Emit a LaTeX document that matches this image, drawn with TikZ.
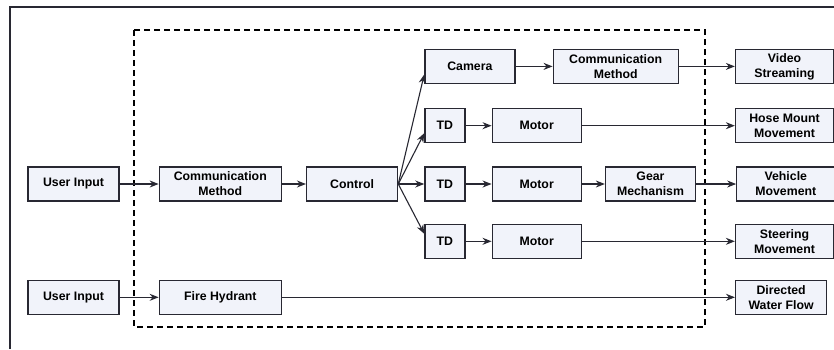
\documentclass[tikz,border=0pt]{standalone}
\usepackage{fontspec}
\setmainfont{Liberation Sans}
\usetikzlibrary{arrows.meta, positioning}
\definecolor{boxfill}{RGB}{241,243,250}
\definecolor{linegray}{RGB}{40,40,50}
\tikzset{
    block/.style={rectangle, minimum height=34pt, inner sep=2pt, align=center, draw=linegray, line width=1.3pt, fill=boxfill, font=\fontsize{12.3}{15}\selectfont\bfseries},
    arrow/.style={line width=1.1pt, draw=linegray, ->, >={Stealth[length=9pt,width=7pt]}},
    boundary/.style={line width=1.3pt, dash pattern=on 6pt off 4pt}
}

\begin{document}
\begin{tikzpicture}
    \useasboundingbox (-73.5pt,-165pt) rectangle (760.5pt,184pt);
    \draw [line width=1.3pt, linegray] (-63.5pt,-165pt) -- (-63.5pt,177pt) -- (760.5pt,177pt);
    \draw [boundary] (60.5pt,154pt) rectangle (631.5pt,-143pt);

    \node (ui1) [block, minimum width=91pt] {User Input};
    \node (cm1) [block, minimum width=122pt, right=39pt of ui1] {Communication\\Method};
    \node (ctrl) [block, minimum width=91pt, right=24pt of cm1] {Control};
    \node (td3) [block, minimum width=40pt, right=26pt of ctrl] {TD};
    \node (td2) [block, minimum width=40pt, above=23pt of td3] {TD};
    \node (td4) [block, minimum width=40pt, below=22pt of td3] {TD};
    \node (cam) [block, minimum width=90pt, above=24pt of td2.north west, anchor=south west] {Camera};
    \node (cm2) [block, minimum width=125pt, right=37pt of cam] {Communication\\Method};
    \node (vid) [block, minimum width=98pt, right=56pt of cm2] {Video\\Streaming};
    \node (mot2) [block, minimum width=89pt, right=26pt of td2] {Motor};
    \node (mot3) [block, minimum width=89pt, right=26pt of td3] {Motor};
    \node (mot4) [block, minimum width=89pt, right=26pt of td4] {Motor};
    \node (gear) [block, minimum width=90pt, right=23pt of mot3] {Gear\\Mechanism};
    \node (hose) [block, minimum width=98pt, right=153pt of mot2] {Hose Mount\\Movement};
    \node (veh) [block, minimum width=98pt, right=40pt of gear] {Vehicle\\Movement};
    \node (steer) [block, minimum width=98pt, right=153pt of mot4] {Steering\\Movement};
    \node (ui2) [block, minimum width=91pt, below=78pt of ui1] {User Input};
    \node (fire) [block, minimum width=122pt, right=39pt of ui2] {Fire Hydrant};
    \node (water) [block, minimum width=91pt, right=453pt of fire] {Directed\\Water Flow};

    \draw [arrow] (ui1) -- (cm1);
    \draw [arrow] (cm1) -- (ctrl);
    \draw [arrow] (ctrl.east) -- (cam.190);
    \draw [arrow] (ctrl.east) -- (td2.200);
    \draw [arrow] (ctrl) -- (td3);
    \draw [arrow] (ctrl.east) -- (td4.160);
    \draw [arrow] (cam) -- (cm2);
    \draw [arrow] (cm2) -- (vid);
    \draw [arrow] (td2) -- (mot2);
    \draw [arrow] (mot2) -- (hose);
    \draw [arrow] (td3) -- (mot3);
    \draw [arrow] (mot3) -- (gear);
    \draw [arrow] (gear) -- (veh);
    \draw [arrow] (td4) -- (mot4);
    \draw [arrow] (mot4) -- (steer);
    \draw [arrow] (ui2) -- (fire);
    \draw [arrow] (fire) -- (water);
\end{tikzpicture}
\end{document}
